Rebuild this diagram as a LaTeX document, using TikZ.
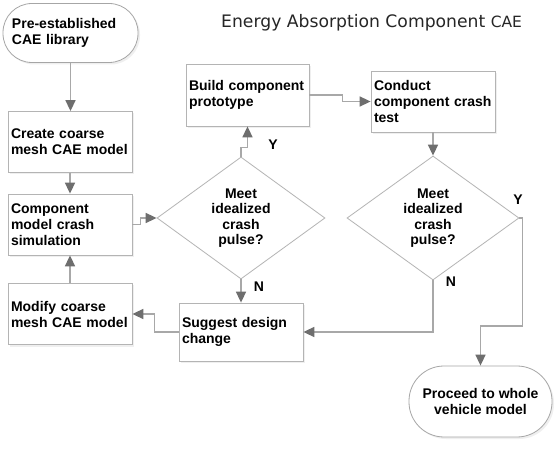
\documentclass[tikz,border=0pt]{standalone}
\usepackage{fontspec}
\setmainfont{Liberation Sans}
\newfontfamily\titlefont{DejaVu Sans}
\usetikzlibrary{arrows.meta,shapes.geometric,shadows,calc}
\definecolor{linegray}{HTML}{A8A8A8}
\definecolor{headgray}{HTML}{6E6E6E}
\definecolor{bordergray}{HTML}{B4B4B4}
\begin{document}
\begin{tikzpicture}[x=1pt,y=-1pt,
  txt/.style={font=\bfseries\fontsize{14}{16}\selectfont},
  box/.style={txt, draw=bordergray, fill=white, line width=0.8pt, rectangle,
    inner xsep=3pt, inner ysep=0pt, align=left, minimum height=61pt,
    drop shadow={shadow xshift=2pt,shadow yshift=-2pt,opacity=0.12}},
  term/.style={txt, draw=gray!70, fill=white, line width=0.8pt, rectangle,
    inner ysep=0pt,
    drop shadow={shadow xshift=2pt,shadow yshift=-2pt,opacity=0.12}},
  dia/.style={diamond, draw=bordergray, fill=white, line width=0.8pt, inner sep=0pt},
  dtext/.style={font=\bfseries\fontsize{14}{15.4}\selectfont, align=center},
  lab/.style={font=\bfseries\fontsize{14}{16}\selectfont},
  arr/.style={draw=linegray, line width=1.6pt,
    -{Triangle[length=11pt,width=10pt,color=headgray]}}]
\fill[white] (0,0) rectangle (560,449);
\useasboundingbox (0,0) rectangle (560,449);

\node[font=\titlefont, anchor=base west, text=black!85, inner sep=0pt] (title) at (221,28)
  {\fontsize{17.2}{20}\selectfont Energy Absorption Component \fontsize{15.5}{20}\selectfont CAE};

\node[term, rounded corners=29pt, minimum width=135pt, minimum height=59pt,
  inner xsep=9pt, text width=117pt, align=left] (start) at (70.5,33)
  {Pre-established\\CAE library};
\node[box, text width=118pt] (create) at (70,142) {Create coarse\\mesh CAE model};
\node[box, text width=118pt] (comp) at (70,224.5) {Component\\model crash\\simulation};
\node[box, text width=118pt] (modify) at (70,314) {Modify coarse\\mesh CAE model};
\node[box, text width=117pt, minimum height=62pt] (build) at (247.5,95) {Build component\\prototype};
\node[box, text width=118pt] (conduct) at (433,101.5) {Conduct\\component crash\\test};
\node[box, text width=118pt, minimum height=58pt] (suggest) at (241,332) {Suggest design\\change};

\node[dia, minimum width=168pt, minimum height=122pt] (d1) at (241,218) {};
\node[dtext] (d1t) at (d1) {Meet\\idealized\\crash\\pulse?};
\node[dia, minimum width=172pt, minimum height=124pt] (d2) at (433,218) {};
\node[dtext] (d2t) at (d2) {Meet\\idealized\\crash\\pulse?};

\node[term, rounded corners=35pt, minimum width=143pt, minimum height=71pt,
  align=center] (end) at (480.5,401.5) {Proceed to whole\\vehicle model};

\node[lab] (y1) at (273,145) {Y};
\node[lab] (n1) at (259,287) {N};
\node[lab] (y2) at (518,200) {Y};
\node[lab] (n2) at (451,282) {N};

\draw[arr] (start.south) -- (start.south |- create.north);
\draw[arr] (create.south) -- (comp.north);
\draw[arr] (modify.north) -- (comp.south);
\draw[arr] (comp.east) -- ++(8,0) |- (d1.west);
\draw[arr] (d1.north) -- ++(0,-9) -| (build.south);
\draw[arr] (build.east) -- ++(33,0) |- (conduct.west);
\draw[arr] (conduct.south) -- (d2.north);
\draw[arr] (d2.east) -- ++(3,0) -- ++(0,108) -| (end.north);
\draw[arr] (d2.south) |- (suggest.east);
\draw[arr] (d1.south) -- (suggest.north);
\draw[arr] (suggest.west) -- ++(-24,0) |- (modify.east);
\end{tikzpicture}
\end{document}
